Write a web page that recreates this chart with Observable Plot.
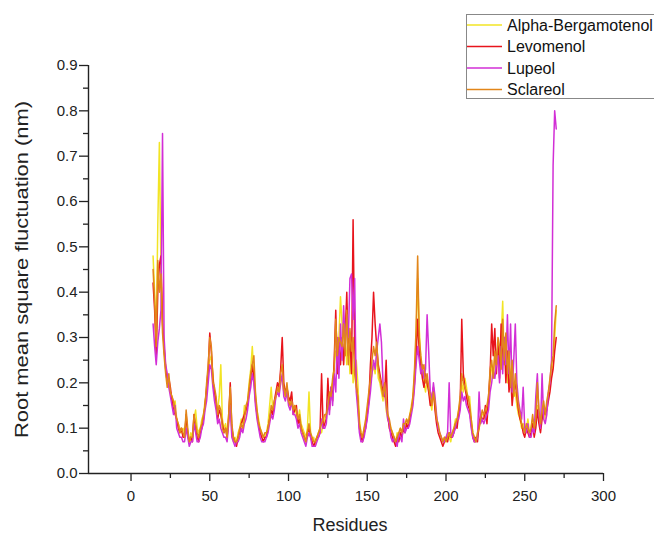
<!DOCTYPE html>
<html><head><meta charset="utf-8">
<script src="https://cdn.jsdelivr.net/npm/d3@7"></script>
<script src="https://cdn.jsdelivr.net/npm/@observablehq/plot@0.6"></script>
<style>body{margin:0;background:#fff;} #chart{width:654px;height:536px;}</style>
</head><body><div id="chart"></div>
<script>
const residueStart = 14;
const seriesNames = ["Alpha-Bergamotenol", "Levomenol", "Lupeol", "Sclareol"];
const seriesColors = ["#f2e424", "#e8141c", "#d22fd6", "#e2861a"];

const alphaBergamotenol = [
.48,.40,.30,.55,.73,.45,.35,.27,.24,.21,
.20,.18,.17,.15,.16,.12,.11,.10,.09,.10,
.09,.12,.08,.07,.09,.08,.12,.14,.10,.09,
.10,.12,.13,.16,.18,.22,.25,.26,.22,.17,
.15,.14,.17,.24,.12,.10,.11,.09,.13,.18,
.09,.07,.08,.07,.09,.10,.12,.11,.15,.13,
.16,.20,.23,.28,.22,.17,.14,.12,.10,.09,
.08,.08,.09,.11,.15,.19,.14,.15,.17,.19,
.18,.21,.20,.18,.17,.19,.16,.15,.17,.14,
.15,.13,.12,.14,.11,.10,.09,.08,.10,.18,
.09,.07,.08,.06,.08,.09,.10,.09,.11,.12,
.13,.16,.15,.19,.20,.24,.27,.25,.30,.39,
.33,.26,.30,.24,.31,.22,.30,.20,.24,.25,
.20,.12,.09,.08,.10,.11,.14,.17,.20,.22,
.24,.22,.26,.21,.20,.18,.16,.19,.14,.12,
.11,.10,.09,.08,.07,.09,.08,.10,.09,.11,
.10,.12,.11,.13,.15,.17,.22,.30,.43,.32,
.25,.22,.20,.18,.21,.19,.16,.14,.18,.15,
.12,.10,.09,.08,.07,.08,.07,.09,.08,.07,
.09,.10,.12,.11,.14,.16,.20,.18,.21,.19,
.16,.17,.12,.09,.08,.07,.08,.10,.12,.13,
.13,.12,.14,.16,.20,.24,.22,.26,.25,.28,
.26,.30,.38,.24,.29,.20,.26,.21,.23,.17,
.18,.15,.13,.12,.10,.11,.09,.10,.12,.09,
.10,.12,.09,.11,.15,.12,.10,.13,.15,.12,
.15,.17,.20,.22,.24,.30,.36
];
const levomenol = [
.42,.36,.26,.40,.46,.48,.33,.28,.23,.20,
.21,.19,.16,.14,.13,.12,.10,.09,.10,.08,
.08,.13,.09,.07,.08,.07,.13,.10,.08,.07,
.09,.10,.12,.15,.19,.23,.31,.27,.21,.18,
.16,.12,.14,.13,.11,.09,.10,.08,.12,.20,
.10,.08,.07,.06,.08,.09,.11,.12,.13,.14,
.15,.18,.21,.24,.21,.16,.13,.11,.09,.08,
.07,.08,.08,.10,.12,.14,.13,.16,.18,.20,
.19,.23,.30,.20,.18,.19,.17,.16,.18,.13,
.14,.15,.11,.12,.10,.09,.08,.07,.09,.10,
.08,.07,.06,.07,.08,.08,.09,.22,.10,.11,
.12,.21,.14,.19,.16,.25,.36,.22,.29,.24,
.30,.24,.31,.40,.26,.30,.22,.56,.28,.20,
.16,.10,.08,.07,.09,.10,.13,.16,.24,.30,
.40,.33,.28,.24,.22,.20,.18,.17,.25,.13,
.10,.09,.08,.07,.06,.08,.07,.09,.08,.10,
.09,.11,.10,.12,.14,.16,.20,.26,.34,.27,
.24,.21,.19,.22,.20,.18,.15,.17,.19,.14,
.11,.09,.08,.07,.06,.07,.08,.07,.09,.08,
.08,.09,.11,.10,.13,.15,.34,.22,.19,.17,
.15,.14,.11,.08,.07,.08,.07,.11,.13,.12,
.12,.15,.11,.17,.22,.33,.26,.32,.22,.29,
.21,.33,.24,.30,.20,.27,.18,.22,.15,.19,
.20,.17,.14,.12,.11,.09,.08,.10,.09,.08,
.09,.11,.08,.10,.14,.11,.09,.12,.14,.13,
.14,.16,.18,.21,.23,.27,.30
];
const lupeol = [
.33,.28,.24,.29,.32,.36,.75,.30,.24,.22,
.19,.17,.15,.13,.15,.10,.09,.08,.08,.07,
.07,.10,.08,.06,.07,.07,.11,.09,.07,.07,
.08,.10,.11,.14,.16,.20,.24,.23,.19,.16,
.14,.11,.12,.10,.09,.08,.08,.07,.11,.15,
.08,.07,.06,.07,.07,.08,.10,.09,.11,.12,
.14,.17,.19,.22,.20,.15,.12,.10,.08,.07,
.07,.07,.08,.09,.11,.13,.12,.14,.17,.18,
.17,.20,.22,.17,.16,.18,.15,.14,.16,.13,
.13,.12,.10,.11,.09,.08,.07,.06,.08,.09,
.08,.06,.06,.06,.07,.08,.09,.12,.10,.10,
.11,.16,.13,.19,.15,.22,.18,.30,.21,.33,
.25,.37,.28,.35,.30,.43,.44,.34,.43,.18,
.14,.09,.07,.07,.08,.10,.12,.15,.18,.22,
.25,.23,.27,.30,.33,.29,.20,.18,.15,.12,
.11,.08,.07,.08,.07,.06,.09,.08,.07,.12,
.09,.10,.10,.11,.13,.15,.19,.24,.28,.25,
.22,.24,.21,.23,.35,.27,.18,.16,.20,.17,
.13,.10,.09,.08,.07,.07,.08,.09,.20,.09,
.08,.09,.10,.12,.12,.14,.18,.16,.17,.15,
.14,.13,.10,.08,.07,.07,.08,.18,.11,.12,
.11,.12,.13,.14,.18,.20,.23,.21,.24,.26,
.20,.28,.22,.30,.24,.35,.22,.33,.18,.25,
.33,.20,.16,.14,.12,.19,.10,.09,.11,.08,
.08,.10,.09,.17,.22,.13,.10,.22,.12,.11,
.13,.18,.20,.25,.68,.80,.76
];
const sclareol = [
.45,.38,.28,.47,.40,.44,.31,.26,.22,.19,
.22,.18,.17,.16,.14,.12,.11,.09,.10,.09,
.08,.14,.10,.07,.08,.08,.13,.11,.09,.08,
.10,.11,.13,.15,.20,.24,.30,.28,.20,.19,
.17,.13,.15,.14,.10,.09,.10,.08,.13,.19,
.11,.08,.07,.07,.08,.10,.11,.10,.12,.15,
.16,.19,.22,.24,.26,.18,.14,.11,.10,.09,
.08,.09,.09,.10,.12,.15,.14,.16,.17,.19,
.18,.22,.24,.19,.17,.20,.16,.15,.16,.14,
.15,.14,.12,.13,.10,.09,.08,.07,.09,.11,
.09,.08,.07,.07,.08,.09,.10,.11,.12,.13,
.13,.15,.18,.17,.21,.23,.34,.26,.30,.29,
.28,.33,.26,.36,.24,.32,.27,.30,.22,.19,
.17,.11,.09,.08,.10,.12,.15,.18,.21,.25,
.28,.26,.29,.23,.21,.19,.17,.20,.16,.13,
.12,.10,.09,.08,.07,.08,.09,.10,.09,.11,
.11,.12,.11,.13,.14,.17,.23,.32,.48,.30,
.26,.23,.24,.20,.22,.19,.17,.15,.18,.16,
.12,.11,.09,.08,.07,.08,.07,.08,.09,.08,
.09,.10,.11,.12,.14,.17,.22,.20,.19,.18,
.17,.15,.12,.09,.08,.07,.09,.10,.12,.14,
.13,.14,.15,.17,.23,.25,.21,.27,.24,.30,
.28,.23,.34,.25,.31,.22,.27,.19,.25,.17,
.22,.18,.15,.13,.11,.10,.09,.11,.10,.09,
.10,.13,.10,.12,.20,.14,.11,.14,.16,.13,
.16,.18,.21,.24,.26,.33,.37
];

const xDomain = [-27, 300];
const yDomain = [0, 0.9];
const xMajorTicks = [0, 50, 100, 150, 200, 250, 300];
const xMinorTicks = [25, 75, 125, 175, 225, 275];
const yMajorTicks = [0, 0.1, 0.2, 0.3, 0.4, 0.5, 0.6, 0.7, 0.8, 0.9];
const yMinorTicks = [0.05, 0.15, 0.25, 0.35, 0.45, 0.55, 0.65, 0.75, 0.85];
const xLabel = "Residues";
const yLabel = "Root mean square fluctuation (nm)";

const seriesValues = [alphaBergamotenol, levomenol, lupeol, sclareol];
const data = [];
seriesNames.forEach((name, i) => {
  seriesValues[i].forEach((v, j) => data.push({series: name, residue: residueStart + j, rmsf: v}));
});

const font = "'Liberation Sans', Arial, Helvetica, sans-serif";
const plot = Plot.plot({
  width: 654, height: 536,
  marginLeft: 88, marginRight: 51, marginTop: 65, marginBottom: 63,
  style: {fontFamily: font, fontSize: "15px", color: "#222", background: "#fff", overflow: "visible"},
  x: {domain: xDomain, label: null},
  y: {domain: yDomain, label: null},
  color: {domain: seriesNames, range: seriesColors},
  marks: [
    Plot.line(data, {x: "residue", y: "rmsf", z: "series", stroke: "series", strokeWidth: 1.5}),
    Plot.ruleY([yDomain[0]], {stroke: "#222", strokeWidth: 1.4}),
    Plot.ruleX([xDomain[0]], {stroke: "#222", strokeWidth: 1.4}),
    Plot.axisX({ticks: xMajorTicks, tickSize: 8, tickPadding: 9, label: null, fontSize: 15, strokeWidth: 1.3}),
    Plot.axisX({ticks: xMinorTicks, tickSize: 5, tickFormat: () => "", label: null, strokeWidth: 1.3}),
    Plot.axisY({ticks: yMajorTicks, tickSize: 9, tickPadding: 2, tickFormat: d3.format(".1f"), label: null, fontSize: 15, strokeWidth: 1.3}),
    Plot.axisY({ticks: yMinorTicks, tickSize: 5, tickFormat: () => "", label: null, strokeWidth: 1.3}),
    Plot.text([xLabel], {frameAnchor: "bottom", lineAnchor: "middle", dy: 52, dx: 4, fontSize: 18}),
    Plot.text([yLabel], {frameAnchor: "left", lineAnchor: "middle", rotate: -90, dx: -66, fontSize: 18})
  ]
});
document.getElementById("chart").appendChild(plot);

const svg = d3.select(plot);
svg.selectAll("text").filter(function() { return this.textContent === yLabel; })
  .attr("text-anchor", "start").attr("x", -168.5)
  .attr("textLength", 337).attr("lengthAdjust", "spacingAndGlyphs");

// legend
const lg = svg.append("g").attr("font-family", font).attr("font-size", 16)
  .attr("fill", "#111").attr("text-anchor", "start");
lg.append("rect").attr("x", 466.5).attr("y", 14.5).attr("width", 200).attr("height", 84)
  .attr("fill", "#fff").attr("stroke", "#888");
seriesNames.forEach((name, i) => {
  const y = 25 + i * 21.5;
  lg.append("line").attr("x1", 467).attr("x2", 502).attr("y1", y).attr("y2", y)
    .attr("stroke", seriesColors[i]).attr("stroke-width", 1.3);
  lg.append("text").attr("x", 507).attr("y", y).attr("dy", "0.35em")
    .attr("text-anchor", "start").text(name);
});
</script>
</body></html>
